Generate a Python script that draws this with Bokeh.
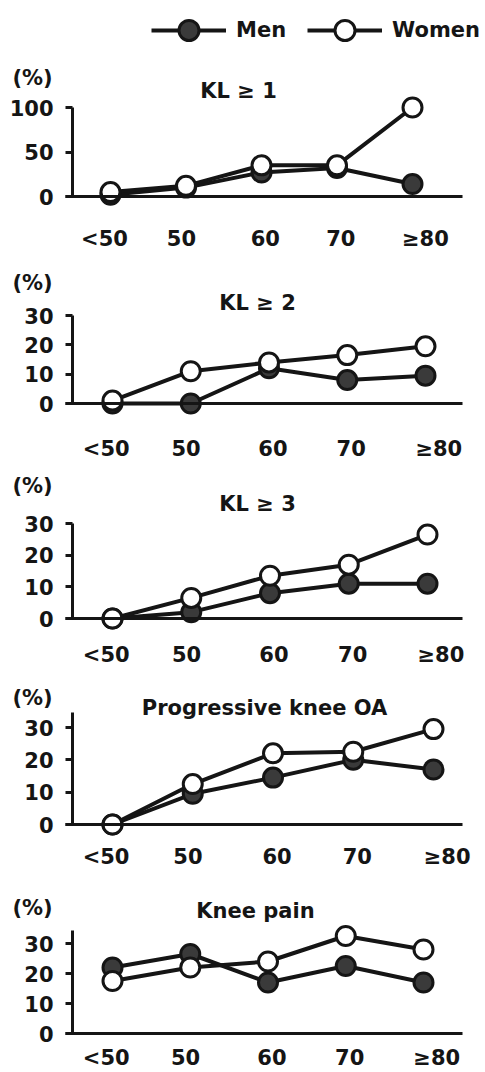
from bokeh.plotting import figure
from bokeh.layouts import column
from bokeh.models import Range1d, FixedTicker, Label, Legend, LegendItem
from bokeh.embed import file_html
from bokeh.resources import INLINE

# ---------------- data ----------------
age_groups = ["<50", "50", "60", "70", "≥80"]
panel_titles = ["KL ≥ 1", "KL ≥ 2", "KL ≥ 3", "Progressive knee OA", "Knee pain"]

men_kl1 = [2, 10, 27, 32, 14]
women_kl1 = [5, 12, 35, 35, 100]
men_kl2 = [0, 0, 12, 8, 9.5]
women_kl2 = [1, 11, 14, 16.5, 19.5]
men_kl3 = [0, 2, 8, 11, 11]
women_kl3 = [0, 6.5, 13.5, 17, 26.5]
men_prog = [0, 9.5, 14.5, 20, 17]
women_prog = [0, 12.5, 22, 22.5, 29.5]
men_pain = [22, 26.5, 17, 22.5, 17]
women_pain = [17.5, 22, 24, 32.5, 28]

y_ticks_kl1 = [0, 50, 100]
y_ticks_other = [0, 10, 20, 30]

men_series = [men_kl1, men_kl2, men_kl3, men_prog, men_pain]
women_series = [women_kl1, women_kl2, women_kl3, women_prog, women_pain]
tick_sets = [y_ticks_kl1, y_ticks_other, y_ticks_other, y_ticks_other, y_ticks_other]

# ---------------- style / layout ----------------
FONT = "DejaVu Sans"
FS = "21px"
INK = "#151515"
MEN_FILL = "#3a3a3a"
W = 485
PAGE_L, PAGE_R = 0, W
YAXIS_X = 72          # page x of the y axis
XAXIS_L, XAXIS_R = 65, 462
PCT_X = 32
LABEL_SHIFT = [-0.08, -0.06, 0.05, 0.05, 0.17]

# page-pixel layout of each panel
L = [
    dict(top=58, bot=262, y0=196, ytop=107, axis_top=100, pct=77, ttl=90, tx=238, x0=110, dx=75.5, lab=237),
    dict(top=262, bot=468, y0=403, ytop=315, axis_top=30, pct=282, ttl=302, tx=257, x0=112, dx=78.25, lab=447),
    dict(top=468, bot=668, y0=618, ytop=523, axis_top=30, pct=485, ttl=503, tx=257, x0=112, dx=78.75, lab=653),
    dict(top=668, bot=876, y0=824, ytop=727, axis_top=34.5, pct=697, ttl=707, tx=264, x0=112, dx=80.25, lab=855),
    dict(top=876, bot=1072, y0=1033, ytop=943, axis_top=34.5, pct=907, ttl=910, tx=255, x0=112, dx=77.75, lab=1056),
]

figs = []

# ---------------- legend strip ----------------
lg = figure(width=W, height=58, output_backend="svg", toolbar_location=None,
            x_axis_location=None, y_axis_location=None,
            x_range=Range1d(0, 1), y_range=Range1d(0, 1),
            min_border_left=0, min_border_right=0, min_border_top=0, min_border_bottom=0)
lg.outline_line_color = None
lg.xgrid.visible = False
lg.ygrid.visible = False
hidden_x, hidden_y = [-5, -4], [-5, -5]
lm = lg.line(hidden_x, hidden_y, line_color=INK, line_width=4)
sm = lg.scatter(hidden_x, hidden_y, marker="circle", fill_color=MEN_FILL, line_color=INK, line_width=3)
lw = lg.line(hidden_x, hidden_y, line_color=INK, line_width=4)
sw = lg.scatter(hidden_x, hidden_y, marker="circle", fill_color="white", line_color=INK, line_width=3)
legend = Legend(items=[LegendItem(label="Men", renderers=[lm, sm]),
                       LegendItem(label="Women", renderers=[lw, sw])],
                orientation="horizontal", location=(151, 3),
                glyph_width=75, glyph_height=50, label_standoff=10, spacing=21,
                padding=0, margin=0, border_line_color=None, background_fill_alpha=0,
                label_text_font=FONT, label_text_font_style="bold", label_text_font_size=FS,
                label_text_color=INK)
lg.add_layout(legend)
figs.append(lg)

# ---------------- panels ----------------
xs = list(range(len(age_groups)))
for i in range(5):
    c = L[i]
    ticks = tick_sets[i]
    s = (c["y0"] - c["ytop"]) / ticks[-1]

    def dxv(px, c=c):
        return (px - c["x0"]) / c["dx"]

    def dyv(py, c=c, s=s):
        return (c["y0"] - py) / s

    p = figure(width=W, height=c["bot"] - c["top"], output_backend="svg", toolbar_location=None,
               x_range=Range1d(dxv(PAGE_L), dxv(PAGE_R)),
               y_range=Range1d(dyv(c["bot"]), dyv(c["top"])),
               min_border_left=0, min_border_right=0, min_border_top=0, min_border_bottom=0)
    p.outline_line_color = None
    p.xgrid.visible = False
    p.ygrid.visible = False

    # y axis
    ya = p.yaxis[0]
    ya.fixed_location = dxv(YAXIS_X)
    ya.ticker = FixedTicker(ticks=ticks)
    ya.bounds = (0, c["axis_top"])
    ya.axis_line_width = 3
    ya.axis_line_color = INK
    ya.major_tick_line_width = 3
    ya.major_tick_line_color = INK
    ya.major_tick_out = 7
    ya.major_tick_in = 0
    ya.minor_tick_line_color = None
    ya.major_label_standoff = 12
    ya.major_label_text_font = FONT
    ya.major_label_text_font_style = "bold"
    ya.major_label_text_font_size = FS
    ya.major_label_text_color = INK

    # x axis
    xa = p.xaxis[0]
    xa.fixed_location = 0
    tick_pos = [k + LABEL_SHIFT[k] for k in xs]
    xa.ticker = FixedTicker(ticks=tick_pos)
    xa.major_label_overrides = {tick_pos[k]: age_groups[k] for k in xs}
    xa.bounds = (dxv(XAXIS_L), dxv(XAXIS_R))
    xa.axis_line_width = 3
    xa.axis_line_color = INK
    xa.major_tick_line_color = None
    xa.minor_tick_line_color = None
    xa.major_tick_out = 0
    xa.major_tick_in = 0
    xa.minor_tick_out = 0
    xa.major_label_standoff = c["lab"] - c["y0"] - 11
    xa.major_label_text_font = FONT
    xa.major_label_text_font_style = "bold"
    xa.major_label_text_font_size = FS
    xa.major_label_text_color = INK

    p.line(xs, men_series[i], line_color=INK, line_width=4)
    p.line(xs, women_series[i], line_color=INK, line_width=4)
    p.scatter(xs, men_series[i], marker="circle", size=19, fill_color=MEN_FILL,
              line_color=INK, line_width=3)
    p.scatter(xs, women_series[i], marker="circle", size=19, fill_color="white",
              line_color=INK, line_width=3)

    p.add_layout(Label(x=dxv(PCT_X), y=dyv(c["pct"]), text="(%)",
                       text_align="center", text_baseline="middle", text_font=FONT,
                       text_font_style="bold", text_font_size=FS, text_color=INK))
    p.add_layout(Label(x=dxv(c["tx"]), y=dyv(c["ttl"]),
                       text=panel_titles[i], text_align="center", text_baseline="middle",
                       text_font=FONT, text_font_style="bold", text_font_size=FS,
                       text_color=INK))
    figs.append(p)

layout = column(*figs, spacing=0)
open("out.html", "w").write(file_html(layout, INLINE))
